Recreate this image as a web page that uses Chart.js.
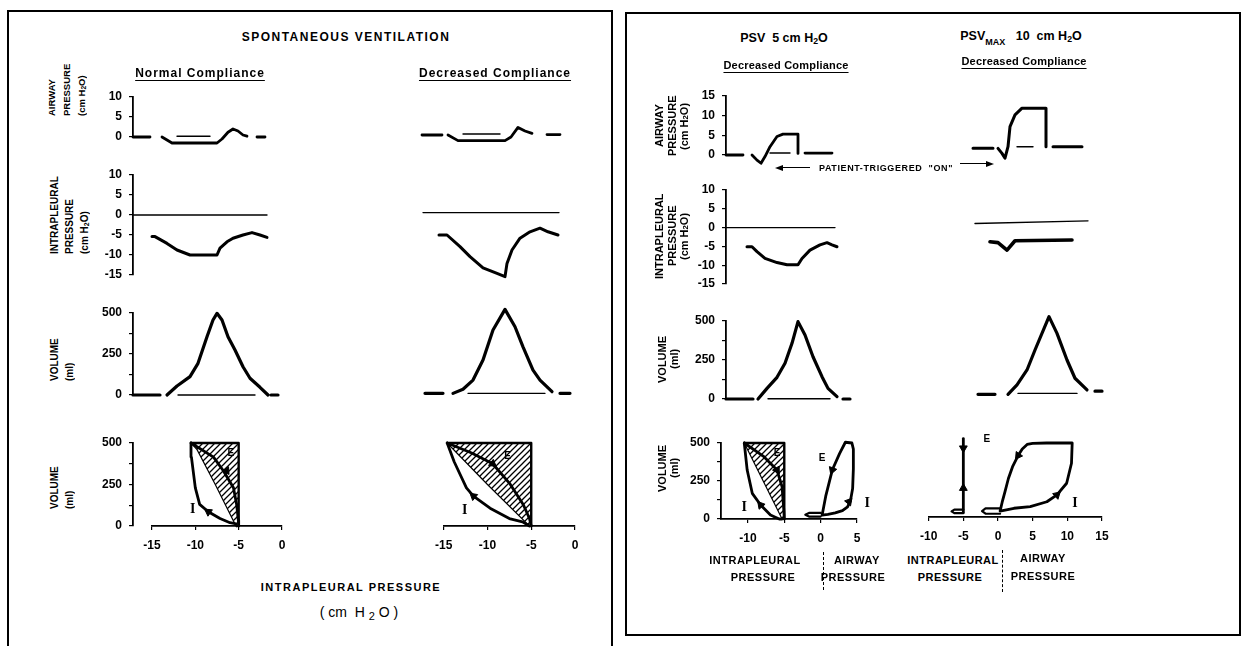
<!DOCTYPE html>
<html>
<head>
<meta charset="utf-8">
<script src="https://cdn.jsdelivr.net/npm/chart.js@4/dist/chart.umd.min.js"></script>
<style>
  body { margin: 0; width: 1243px; height: 646px; position: relative; overflow: hidden; background: #fff;
         font-family: "Liberation Sans", Arial, sans-serif; font-weight: bold; color: #000; }
  canvas { position: absolute; }
  .t { position: absolute; white-space: nowrap; font-size: 11px; line-height: 14px; transform: translate(-50%, -50%); }
  .v { position: absolute; writing-mode: vertical-rl; transform: rotate(180deg); white-space: nowrap; }
  .v sub, .t sub { font-size: 0.7em; line-height: 0; vertical-align: -2px; }
  .frame { position: absolute; border: 2px solid #000; }
  .sep { position: absolute; border-left: 1.5px dashed #000; width: 0; }
  .ie { position: absolute; transform: translate(-50%, -50%); font-size: 10px; }
  .ii { position: absolute; transform: translate(-50%, -50%); font-family: "Liberation Serif", serif; font-size: 14px; }
</style>
</head>
<body>
<div class="frame" style="left:7px;top:10px;width:602px;height:640px;border-bottom:none"></div>
<div class="frame" style="left:625px;top:12px;width:612px;height:620px"></div>
<script>
// ---- data: time traces (x = time, arbitrary units; null = gap in the trace) ----
// left panel, spontaneous ventilation, normal compliance
const awNormal = [[0,0],[17,0],[23,null],[29,0],[39,-1.5],[84,-1.5],[89,-0.5],[95,1.2],[100,2],[105,1.5],[110,0.5],[114,0.2],[119,null],[124,0],[132,0]];
const awNormalRef = [[44,0.2],[77,0.2]];
const ipNormal = [[19,-5.4],[22,-5.4],[34,-7.1],[44,-8.75],[57,-10],[84,-10],[87,-8.3],[94,-6.7],[100,-5.8],[110,-5],[119,-4.4],[127,-5],[134,-5.6]];
const ipNormalRef = [[0,0],[134,0]];
const volNormal = [[0,0],[27,0],[30,null],[34,0],[44,55],[57,112],[65,193],[74,355],[80,457],[84,498],[89,457],[95,355],[102,274],[110,172],[117,102],[127,47],[135,0],[136,null],[138,0],[145,0]];
const volNormalRef = [[45,0],[122,0]];
// left panel, decreased compliance
const awDecr = [[12,0.5],[32,0.5],[35,null],[38,0.5],[48,-0.9],[95,-0.9],[101,0],[108,2.4],[115,1.5],[122,0.9],[130,null],[137,0.6],[150,0.6]];
const awDecrRef = [[53,0.75],[90,0.75]];
const ipDecr = [[29,-5],[37,-5],[50,-7.9],[60,-10.4],[73,-13.2],[87,-14.6],[95,-15.4],[97,-12.1],[102,-8.75],[110,-5.8],[120,-4.2],[130,-3.3],[138,-4.2],[148,-5]];
const ipDecrRef = [[13,0.6],[149,0.6]];
const volDecr = [[15,10],[33,10],[38,null],[43,10],[53,35],[63,91],[73,213],[83,396],[95,522],[105,416],[113,294],[123,152],[130,91],[142,20],[146,null],[150,10],[160,10]];
const volDecrRef = [[58,10],[135,10]];
// right panel, PSV 5 cm H2O
const aw5 = [[0,0],[17,0],[21,null],[26,0],[31,-1.3],[35,-2.1],[39,-0.4],[44,2.1],[51,4.7],[57,5.3],[72,5.3],[72,0.4],[76,null],[79,0.5],[106,0.5]];
const aw5Ref = [[44,0.5],[64,0.5]];
const ip5 = [[21,-5.1],[26,-5.1],[31,-6.4],[39,-8.2],[51,-9.3],[61,-9.9],[72,-9.9],[76,-8.2],[84,-6],[94,-4.6],[101,-4],[106,-4.6],[111,-5.1]];
const ip5Ref = [[0,0],[109,0]];
const vol5 = [[0,0],[27,0],[30,null],[32,0],[41,68],[51,139],[59,229],[66,357],[72,496],[79,410],[87,271],[96,143],[102,68],[111,15],[114,null],[117,0],[124,0]];
const vol5Ref = [[42,2],[104,2]];
// right panel, PSV max 10 cm H2O
const awMax = [[13,1.7],[33,1.7],[36,null],[38,1.7],[42,0.4],[45,-0.8],[48,2.1],[50,7.2],[55,10.2],[62,11.9],[86,11.9],[86,2.1],[90,null],[93,2.1],[122,2.1]];
const awMaxRef = [[57,2.1],[73,2.1]];
const ipMax = [[30,-3.75],[38,-4],[47,-6],[55,-3.5],[112,-3.3]];
const ipMaxRef = [[15,1.1],[128,1.8]];
const volMax = [[18,30],[35,30],[42,null],[48,30],[57,90],[67,186],[75,314],[89,528],[97,421],[107,250],[115,133],[127,58],[131,null],[135,50],[142,50]];
const volMaxRef = [[58,36],[117,36]];

// ---- data: pressure-volume loops (x = cm H2O, y = ml) ----
const pvNormalInsp = [[-5.2,0],[-5.4,14],[-6.0,20],[-7.15,45],[-8.5,86],[-9.5,130],[-10.0,230],[-10.45,415],[-10.5,500]];
const pvNormalExp = [[-10.5,500],[-7.9,415],[-6.77,333],[-5.6,230],[-5.23,128],[-5.04,35],[-5,0]];
const pvNormalLine = [[-10.5,500],[-9.8,460],[-7.7,250],[-5.6,30],[-5.3,0],[-5,0]];
const pvNormalBox = [[-10.5,500],[-5,500],[-5,0]];
const pvNormalArrows = [[-8.5,86],[-6.4,333]];

const pvDecrInsp = [[-5.2,0],[-6,25],[-7.5,45],[-9.7,107],[-11.6,180],[-12.4,230],[-13.8,387],[-14.6,500]];
const pvDecrExp = [[-14.6,500],[-11.8,440],[-9.4,375],[-7.4,252],[-5.9,128],[-5.2,45],[-5,0]];
const pvDecrLine = [[-14.6,500],[-10,250],[-5.4,10],[-5.3,0],[-5,0]];
const pvDecrBox = [[-14.6,500],[-5,500],[-5,0]];
const pvDecrArrows = [[-11.6,180],[-9.4,375]];

const pv5Insp = [[-5.3,0],[-5.7,0],[-6.9,26],[-8.25,92],[-9.4,169],[-10.1,322],[-10.5,500]];
const pv5Exp = [[-10.5,500],[-7.8,410],[-6.0,322],[-5.3,212],[-5.05,50],[-5,0]];
const pv5Line = [[-10.5,500],[-7.9,250],[-5.3,0],[-5,0]];
const pv5Box = [[-10.5,500],[-5,500],[-5,0]];
const pv5Arrows = [[-8.25,92],[-6.0,322]];
const pv5Aw = [[0.2,25],[1,30],[2,40],[3,55],[3.7,80],[4.1,120],[4.4,200],[4.5,330],[4.5,460],[4.3,500],[3.4,505],[2.6,430],[1.6,322],[0.7,150],[0.2,25]];
const pv5AwHook = [[0,40],[-1.6,40],[-2.1,28],[-1.6,16],[0,16]];
const pv5AwArrows = [[3.9,114],[1.6,322]];

const pvMaxIp = [[-5,30],[-5,530]];
const pvMaxIpHook = [[-5,50],[-6.3,50],[-6.7,38],[-6.3,26],[-5,26]];
const pvMaxIpArrows = [[-5,465],[-5,195]];
const pvMaxAw = [[0.3,40],[2.3,59],[4.65,70],[7.05,103],[8.5,149],[9.9,228],[10.6,363],[10.7,500],[7,500],[5,498],[4.2,490],[3.5,460],[2.9,415],[2.1,340],[1.5,260],[1.0,170],[0.6,100],[0.3,40]];
const pvMaxAwHook = [[0.3,58],[-1.8,58],[-2.3,40],[-1.8,22],[0.3,22]];
const pvMaxAwArrows = [[8.5,149],[2.9,415]];

// ---- helpers ----
Chart.defaults.font.family = "'Liberation Sans', Arial, sans-serif";
Chart.defaults.font.weight = "bold";
Chart.defaults.font.size = 12;
Chart.defaults.color = "#000";

const Y_W = 34, X_H = 30, P = 16;
const pts = (a) => a.map(([x, y]) => ({ x, y }));

const trace = (d, w = 2.8) => ({ data: pts(d), borderColor: "#000", borderWidth: w, pointRadius: 0, fill: false, clip: false, yAxisID: "y", borderCapStyle: "round", borderJoinStyle: "round" });
const ref = (d) => trace(d, 1.4);
const arrows = (d, rot) => ({ data: pts(d), showLine: false, pointStyle: "triangle", pointRadius: 4.5, pointRotation: rot, backgroundColor: "#000", borderColor: "#000", borderWidth: 1, clip: false, yAxisID: "y" });
function hatched(d, ctx) {
  const tile = document.createElement("canvas");
  tile.width = tile.height = 6;
  const g = tile.getContext("2d");
  g.strokeStyle = "#000";
  g.lineWidth = 1.3;
  g.beginPath();
  g.moveTo(0, 6); g.lineTo(6, 0);
  g.moveTo(-1, 1); g.lineTo(1, -1);
  g.moveTo(5, 7); g.lineTo(7, 5);
  g.stroke();
  return { data: pts(d), borderColor: "#000", borderWidth: 1.2, pointRadius: 0, fill: { value: 500 }, backgroundColor: ctx.createPattern(tile, "repeat"), clip: false, yAxisID: "y" };
}

function yAxis(range, step, every) {
  return {
    type: "linear", axis: "y", position: "left", weight: 1, min: range[0], max: range[1],
    afterFit: (s) => { s.width = Y_W; },
    border: { display: true, color: "#000", width: 1.8 },
    grid: { display: true, drawOnChartArea: false, drawTicks: true, tickLength: 4, color: "#000", lineWidth: 1.2 },
    ticks: { stepSize: step, padding: 7, callback: (v) => (v % every === 0 ? String(v) : "") },
  };
}
function xAxis(range) {
  return {
    type: "linear", position: "bottom", min: range[0], max: range[1],
    afterFit: (s) => { s.height = X_H; },
    // labelled every 5 cm H2O, starting from the first multiple of 5 inside the range
    afterBuildTicks: (s) => {
      const vals = [];
      for (let v = Math.ceil(range[0] / 5) * 5; v <= range[1]; v += 5) vals.push({ value: v });
      s.ticks = vals;
    },
    border: { display: true, color: "#000", width: 1.8 },
    grid: { display: true, drawOnChartArea: false, drawTicks: true, tickLength: 4, color: "#000", lineWidth: 1.2 },
    ticks: { stepSize: 5, padding: 8, maxRotation: 0, autoSkip: false, callback: (v) => String(v) },
  };
}

function plot(area, o) {
  const left = area.l - (o.yAxis ? Y_W + (o.gap || 0) : P);
  const top = area.t - P;
  const bottom = area.b + (o.xAxis ? X_H : P);
  const cv = document.createElement("canvas");
  cv.width = area.r + P - left;
  cv.height = bottom - top;
  cv.style.left = left + "px";
  cv.style.top = top + "px";
  document.body.appendChild(cv);
  const ctx = cv.getContext("2d");

  const scales = {
    x: o.xAxis ? xAxis(o.x) : { type: "linear", min: o.x[0], max: o.x[1], display: false },
    y: o.yAxis ? yAxis(o.y, o.step, o.every) : { type: "linear", axis: "y", min: o.y[0], max: o.y[1], display: false },
  };
  if (o.gap) {
    scales.gap = { type: "linear", axis: "y", position: "left", weight: 0, afterFit: (s) => { s.width = o.gap; },
      ticks: { display: false }, grid: { display: false }, border: { display: false } };
  }

  const chart = new Chart(cv, {
    type: "line",
    data: { datasets: o.sets(ctx) },
    options: {
      responsive: false, animation: false, events: [],
      layout: { autoPadding: false, padding: { left: o.yAxis ? 0 : P, right: P, top: P, bottom: o.xAxis ? 0 : P } },
      plugins: { legend: { display: false }, tooltip: { enabled: false } },
      elements: { line: { tension: 0 } },
      scales,
    },
  });
  (o.notes || []).forEach(([x, y, text, cls]) => {
    const d = document.createElement("div");
    d.className = cls;
    d.textContent = text;
    d.style.left = left + chart.scales.x.getPixelForValue(x) + "px";
    d.style.top = top + chart.scales.y.getPixelForValue(y) + "px";
    document.body.appendChild(d);
  });
  return chart;
}

function tx(html, cx, cy, style) {
  const d = document.createElement("div");
  d.className = "t";
  d.innerHTML = html;
  d.style.left = cx + "px";
  d.style.top = cy + "px";
  if (style) d.style.cssText += style;
  document.body.appendChild(d);
}
function vt(lines, cx0, lh, size, anchor) {
  const H = 140;
  const d = document.createElement("div");
  d.className = "v";
  d.innerHTML = lines.join("<br>");
  d.style.fontSize = size + "px";
  d.style.lineHeight = lh + "px";
  d.style.left = cx0 - lh / 2 + "px";
  d.style.width = lh * lines.length + "px";
  d.style.height = H + "px";
  if (anchor.bottom !== undefined) { d.style.top = anchor.bottom - H + "px"; d.style.textAlign = "start"; }
  else { d.style.top = anchor.cy - H / 2 + "px"; d.style.textAlign = "center"; }
  document.body.appendChild(d);
}

// ---- left panel: spontaneous ventilation ----
plot({ l: 133, r: 283, t: 97, b: 137 }, { x: [0, 150], y: [0, 10], yAxis: true, step: 5, every: 5,
  sets: () => [trace(awNormal), ref(awNormalRef)] });
plot({ l: 410, r: 575, t: 97, b: 137 }, { x: [0, 165], y: [0, 10],
  sets: () => [trace(awDecr), ref(awDecrRef)] });
plot({ l: 133, r: 283, t: 175, b: 275 }, { x: [0, 150], y: [-15, 10], yAxis: true, step: 5, every: 5,
  sets: () => [trace(ipNormal, 3), ref(ipNormalRef)] });
plot({ l: 410, r: 575, t: 175, b: 275 }, { x: [0, 165], y: [-15, 10],
  sets: () => [trace(ipDecr, 3), ref(ipDecrRef)] });
plot({ l: 133, r: 283, t: 313, b: 395 }, { x: [0, 150], y: [0, 500], yAxis: true, step: 125, every: 250,
  sets: () => [trace(volNormal, 3.2), ref(volNormalRef)] });
plot({ l: 410, r: 575, t: 313, b: 395 }, { x: [0, 165], y: [0, 500],
  sets: () => [trace(volDecr, 3.2), ref(volDecrRef)] });
plot({ l: 152, r: 282, t: 443, b: 526 }, { x: [-15, 0], y: [0, 500], yAxis: true, gap: 19, xAxis: true, step: 125, every: 250,
  sets: (ctx) => [hatched(pvNormalLine, ctx), trace(pvNormalBox, 2.4), trace(pvNormalInsp), trace(pvNormalExp), arrows(pvNormalArrows, [-55, 146])],
  notes: [[-10.3, 105, "I", "ii"], [-5.9, 445, "E", "ie"]] });
plot({ l: 443, r: 575, t: 443, b: 526 }, { x: [-15, 0], y: [0, 500], xAxis: true,
  sets: (ctx) => [hatched(pvDecrLine, ctx), trace(pvDecrBox, 2.4), trace(pvDecrInsp), trace(pvDecrExp), arrows(pvDecrArrows, [-50, 128])],
  notes: [[-12.6, 95, "I", "ii"], [-7.7, 425, "E", "ie"]] });

tx("SPONTANEOUS VENTILATION", 346, 37, "font-size:12px;letter-spacing:1.5px");
tx("Normal Compliance", 200, 73, "font-size:12px;letter-spacing:1px;text-decoration:underline;text-underline-offset:3px");
tx("Decreased Compliance", 495, 73, "font-size:12px;letter-spacing:1px;text-decoration:underline;text-underline-offset:3px");
tx("INTRAPLEURAL PRESSURE", 351, 587, "font-size:11px;letter-spacing:1.5px");
tx("( cm&nbsp; H <span style='font-size:11px;position:relative;top:3px'>2</span> O )", 359, 612, "font-size:14px;font-weight:normal");
vt(["AIRWAY", "PRESSURE", "(cm H<sub>2</sub>O)"], 51, 15, 9.5, { bottom: 116 });
vt(["INTRAPLEURAL", "PRESSURE", "(cm H<sub>2</sub>O)"], 54, 15, 10, { bottom: 254 });
vt(["VOLUME", "(ml)"], 54, 15, 10, { bottom: 381 });
vt(["VOLUME", "(ml)"], 54, 15, 10, { bottom: 509 });

// ---- right panel: pressure support ventilation ----
plot({ l: 726, r: 851, t: 96, b: 155 }, { x: [0, 125], y: [0, 15], yAxis: true, step: 5, every: 5,
  sets: () => [trace(aw5), ref(aw5Ref)] });
plot({ l: 960, r: 1105, t: 96, b: 155 }, { x: [0, 145], y: [0, 15],
  sets: () => [trace(awMax, 3), ref(awMaxRef)] });
plot({ l: 726, r: 851, t: 190, b: 284 }, { x: [0, 125], y: [-15, 10], yAxis: true, step: 5, every: 5,
  sets: () => [trace(ip5, 3), ref(ip5Ref)] });
plot({ l: 960, r: 1105, t: 190, b: 284 }, { x: [0, 145], y: [-15, 10],
  sets: () => [trace(ipMax, 3.6), ref(ipMaxRef)] });
plot({ l: 726, r: 851, t: 321, b: 399 }, { x: [0, 125], y: [0, 500], yAxis: true, step: 125, every: 250,
  sets: () => [trace(vol5, 3.2), ref(vol5Ref)] });
plot({ l: 960, r: 1105, t: 321, b: 399 }, { x: [0, 145], y: [0, 500],
  sets: () => [trace(volMax, 3.2), ref(volMaxRef)] });
plot({ l: 721, r: 857, t: 443, b: 519 }, { x: [-13.7, 5], y: [0, 500], yAxis: true, xAxis: true, step: 125, every: 250,
  sets: (ctx) => [hatched(pv5Line, ctx), trace(pv5Box, 2.4), trace(pv5Insp), trace(pv5Exp), arrows(pv5Arrows, [-40, 149]),
    trace(pv5Aw), trace(pv5AwHook, 2.2), arrows(pv5AwArrows, [40, 200])],
  notes: [[-10.5, 78, "I", "ii"], [-6.0, 440, "E", "ie"], [0.2, 410, "E", "ie"], [6.4, 103, "I", "ii"]] });
plot({ l: 928, r: 1102, t: 443, b: 517 }, { x: [-10, 15], y: [0, 500], xAxis: true,
  sets: () => [trace(pvMaxIp), trace(pvMaxIpHook, 2.2), arrows(pvMaxIpArrows, [180, 0]),
    trace(pvMaxAw), trace(pvMaxAwHook, 2.2), arrows(pvMaxAwArrows, [47, 215])],
  notes: [[-1.6, 532, "E", "ie"], [11.1, 93, "I", "ii"]] });

tx("PSV&nbsp;&nbsp;5 cm H<sub>2</sub>O", 784, 38, "font-size:12.5px");
tx("PSV<sub style='font-size:9px;vertical-align:-5px'>MAX</sub>&nbsp;&nbsp;&nbsp;10&nbsp;&nbsp;cm H<sub>2</sub>O", 1021, 36, "font-size:12.5px");
tx("Decreased Compliance", 786, 65, "font-size:11px;letter-spacing:0.2px;text-decoration:underline;text-underline-offset:3px");
tx("Decreased Compliance", 1024, 61, "font-size:11px;letter-spacing:0.2px;text-decoration:underline;text-underline-offset:3px");
tx("PATIENT-TRIGGERED&nbsp;&nbsp;\"ON\"", 886, 168, "font-size:9px;letter-spacing:0.6px");
vt(["AIRWAY", "PRESSURE", "(cm H<sub>2</sub>O)"], 659, 12.5, 11, { cy: 126 });
vt(["INTRAPLEURAL", "PRESSURE", "(cm H<sub>2</sub>O)"], 659, 12.5, 11, { cy: 236 });
vt(["VOLUME", "(ml)"], 662, 12, 11, { cy: 359 });
vt(["VOLUME", "(ml)"], 663, 11.5, 11, { cy: 468 });
tx("INTRAPLEURAL", 755, 560, "letter-spacing:0.5px");
tx("PRESSURE", 763, 577, "letter-spacing:0.5px");
tx("AIRWAY", 857, 560, "letter-spacing:0.5px");
tx("PRESSURE", 853, 577, "letter-spacing:0.5px");
tx("INTRAPLEURAL", 953, 560, "letter-spacing:0.5px");
tx("PRESSURE", 950, 577, "letter-spacing:0.5px");
tx("AIRWAY", 1043, 558, "letter-spacing:0.5px");
tx("PRESSURE", 1043, 576, "letter-spacing:0.5px");

// separators and the "patient-triggered" arrows
[[823, 552, 38], [1002, 550, 42]].forEach(([x, y, h]) => {
  const d = document.createElement("div");
  d.className = "sep";
  d.style.cssText += `left:${x}px;top:${y}px;height:${h}px`;
  document.body.appendChild(d);
});
function arrow(x1, x2, y, dir) {
  const line = document.createElement("div");
  line.style.cssText = `position:absolute;left:${x1}px;top:${y - 0.75}px;width:${x2 - x1}px;border-top:1.5px solid #000`;
  document.body.appendChild(line);
  const head = document.createElement("div");
  const hx = dir < 0 ? x1 - 7 : x2;
  head.style.cssText = `position:absolute;left:${hx}px;top:${y - 3.5}px;width:0;height:0;border-top:3.5px solid transparent;border-bottom:3.5px solid transparent;` +
    (dir < 0 ? "border-right:8px solid #000" : "border-left:8px solid #000");
  document.body.appendChild(head);
}
arrow(782, 810, 168, -1);
arrow(960, 986, 164, 1);
</script>
</body>
</html>
